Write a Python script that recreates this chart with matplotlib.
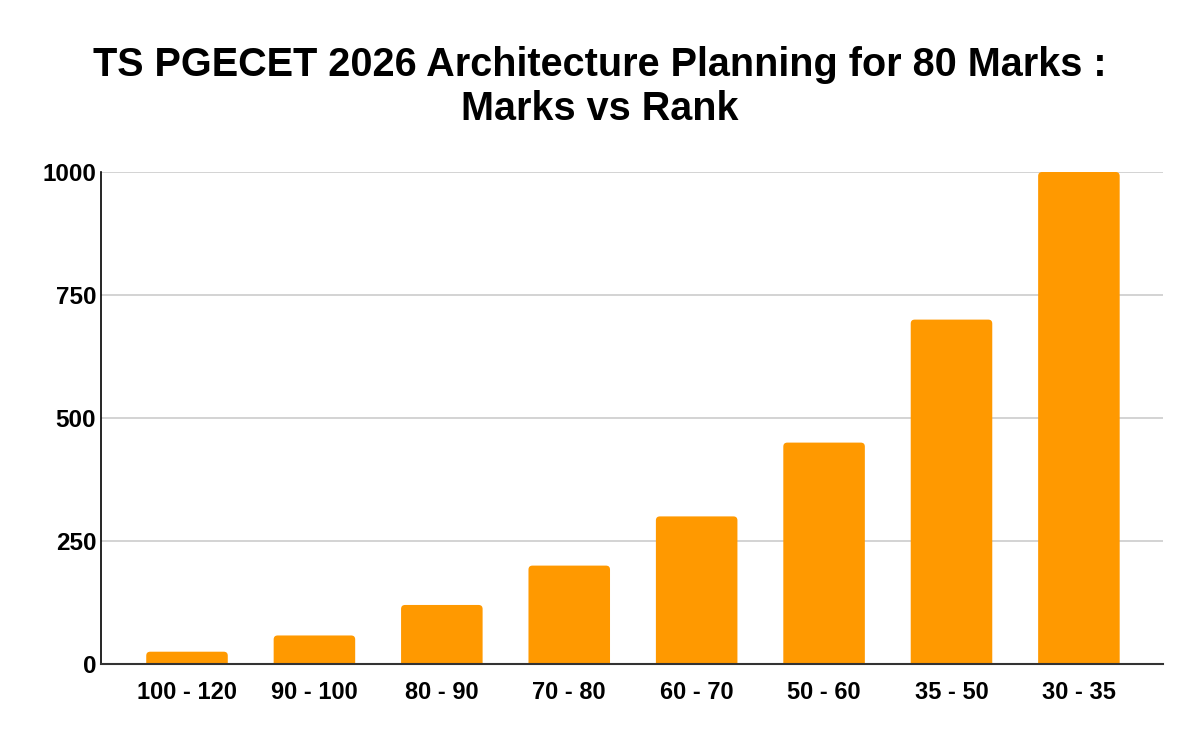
import matplotlib
matplotlib.use("Agg")
import matplotlib.pyplot as plt
from matplotlib.patches import FancyBboxPatch

categories = ["100 - 120", "90 - 100", "80 - 90", "70 - 80", "60 - 70", "50 - 60", "35 - 50", "30 - 35"]
ranks = [25, 58, 120, 200, 300, 450, 700, 1000]
yticks = [0, 250, 500, 750, 1000]

plt.rcParams['font.family'] = ['Liberation Sans', 'DejaVu Sans']

fig = plt.figure(figsize=(12, 7.42), dpi=100)
ax = fig.add_axes([101/1200, 1 - 664/742, (1163-101)/1200, (664-172)/742])

x = list(range(len(categories)))
ax.set_xlim(-0.675, 7.66)
ax.set_ylim(0, 1000)
bars = ax.bar(x, ranks, width=0.64, color="#ff9900", zorder=3)

# replace bars with rounded-top versions
xpp = (7.66 + 0.675) / 1062.0
ypp = 1000.0 / 492.0
r = 4 * xpp
for b in bars:
    b.set_visible(False)
    bx, by = b.get_x(), b.get_y()
    bw, bh = b.get_width(), b.get_height()
    p = FancyBboxPatch((bx, by - 20), bw, bh + 20,
                       boxstyle=f"round,pad=0,rounding_size={r}",
                       mutation_aspect=ypp / xpp,
                       facecolor="#ff9900", edgecolor="none", zorder=3, clip_on=True)
    ax.add_patch(p)

ax.set_yticks(yticks)
ax.set_yticklabels([str(v) for v in yticks], fontsize=17.5, fontweight='bold')
ax.set_xticks(x)
ax.set_xticklabels(categories, fontsize=17, fontweight='bold')
ax.grid(axis='y', color='#cccccc', linewidth=1.2, zorder=0)
for s in ['top', 'right']:
    ax.spines[s].set_visible(False)
ax.spines['left'].set_color('#000000')
ax.spines['left'].set_linewidth(1.2)
ax.spines['bottom'].set_color('#333333')
ax.spines['bottom'].set_linewidth(1.5)
ax.spines['bottom'].set_zorder(4)
ax.tick_params(axis='x', length=0, pad=12)
ax.tick_params(axis='y', length=0, pad=3.5)

fig.text(0.5, 1 - 87/742, "TS PGECET 2026 Architecture Planning for 80 Marks :\nMarks vs Rank",
         ha='center', va='center', fontsize=28.5, fontweight='bold', linespacing=1.17)

fig.savefig("out.png", dpi=100)
